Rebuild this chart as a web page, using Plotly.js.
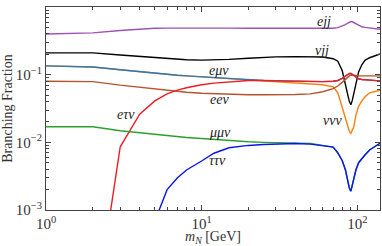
<!DOCTYPE html>
<html>
<head>
<meta charset="utf-8">
<script src="https://cdn.plot.ly/plotly-3.0.1.min.js"></script>
<style>html,body{margin:0;padding:0;background:#fff;}#chart{width:382px;height:246px;}</style>
</head>
<body>
<div id="chart"></div>
<script>
// Heavy neutral lepton mass grid (GeV)
const massN = [1, 2, 3, 4, 5, 6, 7, 8, 10, 12, 15, 20, 25, 30, 40, 50, 60, 70, 75, 80, 84, 87, 89, 91, 93, 95, 98, 102, 107, 112, 120, 130, 140];

const brEjj   = [0.40, 0.415, 0.45, 0.475, 0.485, 0.488, 0.49, 0.49, 0.49, 0.49, 0.488, 0.486, 0.485, 0.484, 0.483, 0.483, 0.483, 0.485, 0.495, 0.52, 0.55, 0.58, 0.6, 0.61, 0.605, 0.59, 0.56, 0.535, 0.51, 0.5, 0.49, 0.478, 0.47];
const brNujj  = [0.21, 0.21, 0.195, 0.185, 0.178, 0.172, 0.168, 0.166, 0.164, 0.165, 0.168, 0.175, 0.18, 0.183, 0.185, 0.185, 0.182, 0.172, 0.158, 0.115, 0.075, 0.05, 0.04, 0.036, 0.042, 0.052, 0.075, 0.11, 0.14, 0.163, 0.178, 0.19, 0.202];
const brEmunu = [0.135, 0.13, 0.118, 0.11, 0.105, 0.101, 0.098, 0.096, 0.093, 0.09, 0.087, 0.083, 0.082, 0.081, 0.08, 0.079, 0.079, 0.08, 0.082, 0.088, 0.096, 0.101, 0.104, 0.104, 0.1, 0.096, 0.091, 0.087, 0.085, 0.084, 0.083, 0.082, 0.081];
const brEenu  = [0.080, 0.079, 0.07, 0.065, 0.061, 0.058, 0.056, 0.055, 0.053, 0.052, 0.051, 0.0505, 0.0505, 0.0505, 0.051, 0.052, 0.056, 0.062, 0.068, 0.077, 0.086, 0.092, 0.096, 0.099, 0.099, 0.098, 0.097, 0.096, 0.096, 0.096, 0.096, 0.096, 0.096];
const brEtaunu = [null, 1.8e-5, 0.0086, 0.026, 0.041, 0.052, 0.059, 0.064, 0.071, 0.075, 0.0785, 0.082, 0.082, 0.081, 0.08, 0.079, 0.079, 0.08, 0.082, 0.088, 0.096, 0.101, 0.104, 0.104, 0.1, 0.096, 0.091, 0.087, 0.085, 0.084, 0.083, 0.082, 0.081];
const brNununu = [0.135, 0.13, 0.118, 0.11, 0.105, 0.101, 0.098, 0.096, 0.093, 0.09, 0.087, 0.083, 0.081, 0.078, 0.075, 0.073, 0.071, 0.066, 0.054, 0.033, 0.022, 0.017, 0.0145, 0.0136, 0.015, 0.017, 0.025, 0.034, 0.041, 0.047, 0.054, 0.057, 0.059];
const brMumunu = [0.017, 0.017, 0.0148, 0.0138, 0.013, 0.0125, 0.0121, 0.0118, 0.0114, 0.011, 0.0106, 0.0102, 0.0100, 0.0099, 0.0098, 0.0096, 0.009, 0.0085, 0.007, 0.0054, 0.0039, 0.0027, 0.0021, 0.0019, 0.0023, 0.0028, 0.0039, 0.005, 0.0058, 0.0065, 0.0077, 0.0088, 0.0097];
const brTautaunu = [null, null, null, null, 6.8e-4, 0.002, 0.003, 0.0039, 0.0053, 0.0069, 0.0083, 0.009, 0.0093, 0.0095, 0.0096, 0.0094, 0.009, 0.0085, 0.007, 0.0054, 0.0039, 0.0027, 0.0021, 0.0019, 0.0023, 0.0028, 0.0039, 0.005, 0.0058, 0.0065, 0.0077, 0.0088, 0.0097];

const channelLabels = ['<i>ejj</i>', '<i>νjj</i>', '<i>eμν</i>', '<i>eeν</i>', '<i>eτν</i>', '<i>ννν</i>', '<i>μμν</i>', '<i>ττν</i>'];
const xTickVals = [1, 10, 100];
const xTickText = ['10<sup>0</sup>', '10<sup>1</sup>', '10<sup>2</sup>'];
const yTickVals = [0.001, 0.01, 0.1, 1];
const yTickText = ['10<sup>−3</sup>', '10<sup>−2</sup>', '10<sup>−1</sup>', '10<sup>0</sup>'];

const series = [
  {y: brEjj, color: '#9e52b4'},
  {y: brNujj, color: '#000000'},
  {y: brNununu, color: '#ff7f0e'},
  {y: brEmunu, color: '#2c7bb6'},
  {y: brEenu, color: '#b5532d'},
  {y: brEtaunu, color: '#ee1c24'},
  {y: brMumunu, color: '#2ca02c'},
  {y: brTautaunu, color: '#0a14f0'}
];

const traces = series.map(s => ({
  x: massN, y: s.y, type: 'scatter', mode: 'lines',
  line: {color: s.color, width: 1.4}, connectgaps: false, hoverinfo: 'skip'
}));

// label positions in pixels (plot area 46..380 x 7..209.7)
const labelPos = [[324, 21], [322, 50], [219, 70], [219, 99], [126, 114], [332, 120], [220, 132], [217, 160]];
const annotations = labelPos.map((p, i) => ({
  xref: 'paper', yref: 'paper', x: (p[0] - 46) / 334, y: (209.7 - p[1]) / 202.7,
  text: channelLabels[i], showarrow: false, xanchor: 'center', yanchor: 'middle',
  font: {family: 'Liberation Serif, serif', size: 14, color: '#222'}
}));

const minorX = [2,3,4,5,6,7,8,9,20,30,40,50,60,70,80,90];
const minorY = [];
[0.001, 0.01, 0.1].forEach(d => { for (let k = 2; k <= 9; k++) minorY.push(d * k); });

const axisFont = {family: 'Liberation Serif, serif', size: 14, color: '#333'};
const layout = {
  width: 382, height: 246,
  margin: {l: 46, r: 2, t: 7, b: 36, pad: 0},
  paper_bgcolor: '#fff', plot_bgcolor: '#fff',
  showlegend: false,
  font: axisFont,
  xaxis: {
    type: 'log', range: [0, Math.log10(140)], showgrid: false, zeroline: false,
    showline: true, linecolor: '#444', linewidth: 1, mirror: 'allticks',
    ticks: 'inside', ticklen: 5, tickcolor: '#444', tickwidth: 1,
    tickmode: 'array', tickvals: xTickVals, ticktext: xTickText,
    tickfont: {family: 'Liberation Serif, serif', size: 15, color: '#333'},
    minor: {ticks: 'inside', ticklen: 3, tickcolor: '#444', tickmode: 'array', tickvals: minorX, showgrid: false},
    title: {text: '<i>m</i><sub><i>N</i></sub> [GeV]', font: axisFont, standoff: 0}
  },
  yaxis: {
    type: 'log', range: [-3, 0], showgrid: false, zeroline: false,
    showline: true, linecolor: '#444', linewidth: 1, mirror: 'allticks',
    ticks: 'inside', ticklen: 5, tickcolor: '#444', tickwidth: 1,
    tickmode: 'array', tickvals: yTickVals, ticktext: yTickText,
    tickfont: {family: 'Liberation Serif, serif', size: 15, color: '#333'},
    minor: {ticks: 'inside', ticklen: 3, tickcolor: '#444', tickmode: 'array', tickvals: minorY, showgrid: false},
    title: {text: 'Branching Fraction', font: axisFont, standoff: 0}
  },
  annotations: annotations
};

Plotly.newPlot('chart', traces, layout, {staticPlot: true, displayModeBar: false});
</script>
</body>
</html>
